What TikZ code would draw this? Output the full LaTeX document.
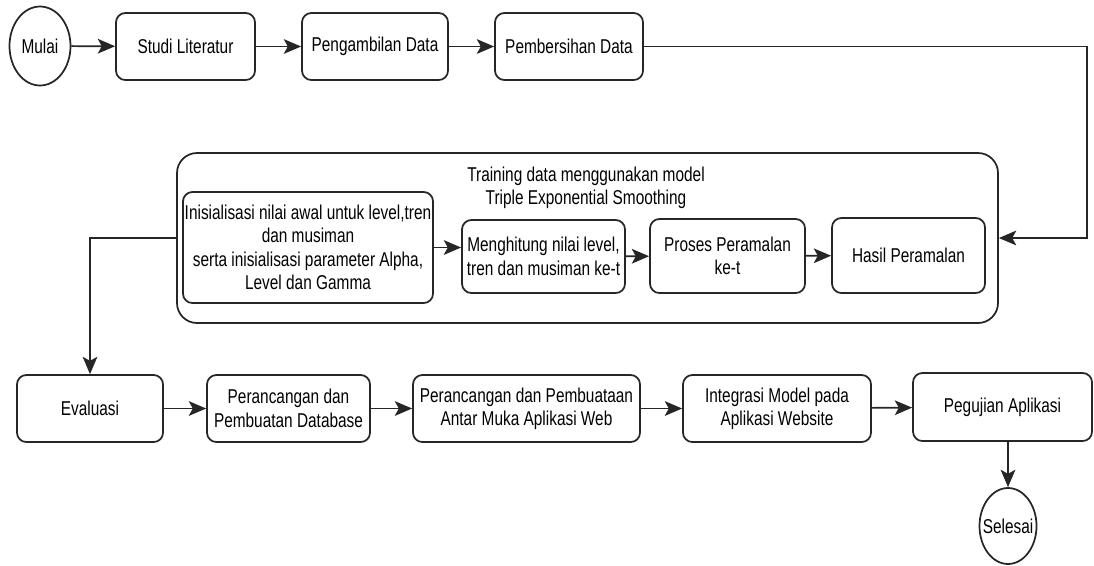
\documentclass[tikz,border=0pt]{standalone}
\usepackage{fontspec}
\setmainfont[FakeStretch=0.77]{Liberation Sans}
\usetikzlibrary{arrows.meta,shapes.geometric}

\begin{document}
	\begin{tikzpicture}[x=0.75pt,y=0.75pt,yscale=-1,xscale=1,
		font=\fontsize{15}{17.5}\selectfont,
		line width=1.3pt,
		kotak/.style={draw=black!85,rounded corners=7pt,align=center,inner sep=1pt,minimum height=50.25pt},
		oval/.style={draw=black!85,ellipse,inner sep=0pt},
		panah/.style={draw=black!85,-{Stealth[length=13pt,width=11pt,inset=3pt]}},
		garis/.style={draw=black!85}]
		\useasboundingbox (0,0) rectangle (1094,565);
		
		%Shape: Ellipse [mulai]
		\node [oval,minimum width=45.75pt,minimum height=59.25pt] (mulai) at (40,46) {\makebox[0pt]{Mulai}};
		%Shape: Rounded Rect [studi]
		\node [kotak,minimum width=104.25pt] (studi) at (185.5,46.5) {Studi Literatur};
		%Shape: Rounded Rect [ambil]
		\node [kotak,minimum width=109.5pt] (ambil) at (375,46.5) {Pengambilan Data};
		%Shape: Rounded Rect [bersih]
		\node [kotak,minimum width=111pt] (bersih) at (569,46.5) {Pembersihan Data};
		
		%Shape: Rounded Rect [training]
		\node [kotak,rounded corners=15pt,minimum width=615.75pt,minimum height=127.5pt] (training) at (587.5,238) {};
		% Text Node
		\node [align=center,inner sep=0.75pt] (judul) at (586,188) {Training data menggunakan model\\Triple Exponential Smoothing};
		%Shape: Rounded Rect [init]
		\node [kotak,minimum width=187.5pt,minimum height=83.25pt] (init) at (308,247.5) {Inisialisasi nilai awal untuk level,tren\\dan musiman\\serta inisialisasi parameter Alpha,\\Level dan Gamma};
		%Shape: Rounded Rect [hitung]
		\node [kotak,minimum width=122.25pt,minimum height=54.75pt] (hitung) at (543.5,256.5) {Menghitung nilai level,\\tren dan musiman ke-t};
		%Shape: Rounded Rect [proses]
		\node [kotak,minimum width=116.25pt,minimum height=55.5pt] (proses) at (727.5,256) {Proses Peramalan\\ke-t};
		%Shape: Rounded Rect [hasil]
		\node [kotak,minimum width=114.75pt,minimum height=56.25pt] (hasil) at (908.5,255.5) {Hasil Peramalan};
		
		%Shape: Rounded Rect [evaluasi]
		\node [kotak,minimum width=109.5pt] (evaluasi) at (90,408.5) {Evaluasi};
		%Shape: Rounded Rect [database]
		\node [kotak,minimum width=122.25pt] (database) at (288.5,408.5) {Perancangan dan\\Pembuatan Database};
		%Shape: Rounded Rect [antarmuka]
		\node [kotak,minimum width=170.25pt] (antarmuka) at (526.5,408.5) {Perancangan dan Pembuataan\\Antar Muka Aplikasi Web};
		%Shape: Rounded Rect [integrasi]
		\node [kotak,minimum width=141pt] (integrasi) at (777,408.5) {Integrasi Model pada\\Aplikasi Website};
		%Shape: Rounded Rect [uji]
		\node [kotak,minimum width=134.25pt,minimum height=51pt] (uji) at (1002.5,407) {Pegujian Aplikasi};
		%Shape: Ellipse [selesai]
		\node [oval,minimum width=42.75pt,minimum height=57pt] (selesai) at (1008,526) {\makebox[0pt]{Selesai}};
		
		%Straight Lines
		\draw [panah] (mulai) -- (studi);
		\draw [panah] (studi) -- (ambil);
		\draw [panah] (ambil) -- (bersih);
		\coordinate (belok) at (1087,46.5);
		\draw [panah] (bersih.east) -- (belok) |- (training.east);
		
		\draw [panah] (init.east) -- (init.east -| hitung.west);
		\draw [panah] (hitung) -- (proses);
		\draw [panah] (proses) -- (hasil);
		
		\draw [panah] (training.west) -| (evaluasi.north);
		\draw [panah] (evaluasi) -- (database);
		\draw [panah] (database) -- (antarmuka);
		\draw [panah] (antarmuka) -- (integrasi);
		\draw [panah] (integrasi) -- (uji);
		\draw [panah] (selesai |- uji.south) -- (selesai);
		
	\end{tikzpicture}
\end{document}
